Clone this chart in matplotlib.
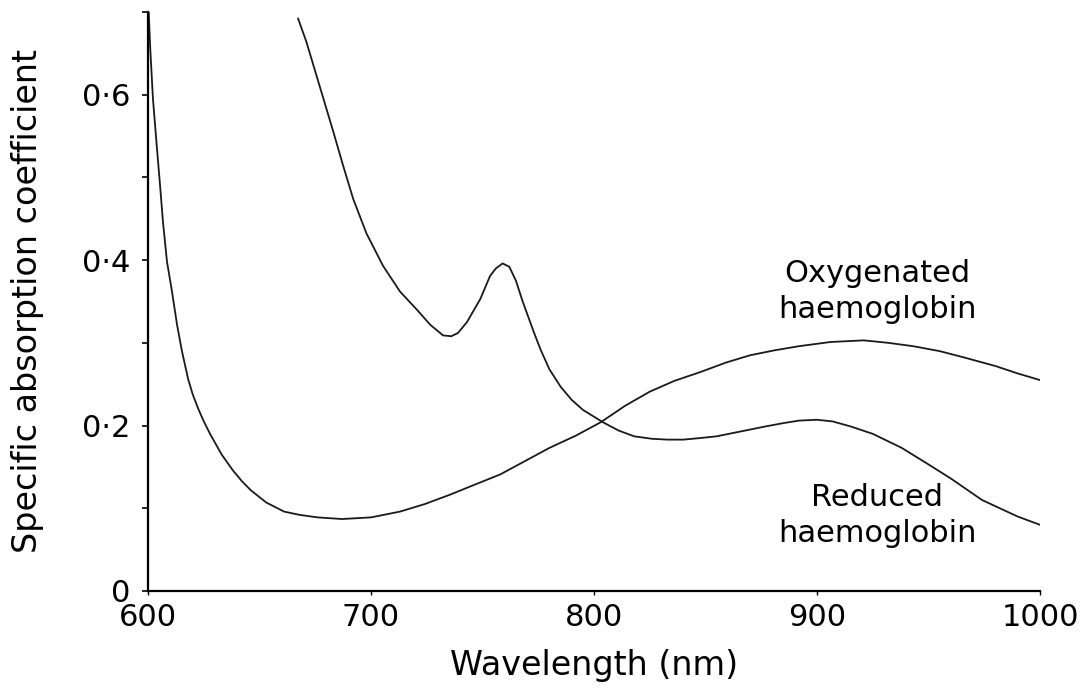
"""Absorption spectra of oxygenated and reduced haemoglobin (600-1000 nm)."""
import matplotlib
matplotlib.use("Agg")
import matplotlib.pyplot as plt
from matplotlib.ticker import FixedLocator, MultipleLocator

# Oxygenated haemoglobin
oxy_nm = [600.3, 601, 602.2, 604, 605.4, 606.7, 608.5, 610.8, 613, 615.2,
          618, 620, 622.4, 625, 627.8, 630.5, 633, 638, 642, 646, 653, 661,
          668, 676, 687, 700, 713, 724, 735, 746, 758, 769, 780, 792, 803,
          814, 825, 836, 848, 859, 870, 881, 892, 906, 921, 932, 943, 955,
          965, 980, 990, 1000]
oxy_k = [0.70, 0.655, 0.595, 0.535, 0.49, 0.446, 0.398, 0.361, 0.322, 0.29,
         0.256, 0.238, 0.221, 0.205, 0.19, 0.177, 0.165, 0.146, 0.133, 0.122,
         0.107, 0.096, 0.092, 0.089, 0.087, 0.089, 0.096, 0.105, 0.116, 0.128,
         0.141, 0.157, 0.173, 0.188, 0.204, 0.224, 0.241, 0.254, 0.265, 0.276,
         0.285, 0.291, 0.296, 0.301, 0.303, 0.300, 0.296, 0.290, 0.283, 0.272,
         0.263, 0.255]

# Reduced haemoglobin
red_nm = [667.3, 671, 675, 679, 683, 687.4, 692, 698, 705.4, 713, 720.6,
          726.5, 732.3, 736, 739, 743, 749, 753.4, 756, 759, 762, 765, 768,
          773, 776, 780, 785, 790, 795, 804, 811, 818, 826, 833, 840, 848,
          855, 866, 877, 885, 892, 900, 907, 915, 925, 938, 950, 960, 974,
          990, 1000]
red_k = [0.692, 0.664, 0.628, 0.592, 0.556, 0.515, 0.474, 0.432, 0.393, 0.362,
         0.34, 0.322, 0.309, 0.308, 0.312, 0.325, 0.353, 0.381, 0.39, 0.396,
         0.392, 0.375, 0.35, 0.313, 0.292, 0.268, 0.247, 0.231, 0.219, 0.204,
         0.194, 0.187, 0.184, 0.183, 0.183, 0.185, 0.187, 0.193, 0.199, 0.203,
         0.206, 0.207, 0.205, 0.199, 0.19, 0.173, 0.153, 0.136, 0.11, 0.09,
         0.08]

y_ticks = [0, 0.2, 0.4, 0.6]
y_labels = ["0", "0\u00b72", "0\u00b74", "0\u00b76"]
x_ticks = [600, 700, 800, 900, 1000]

fig = plt.figure(figsize=(10.83, 6.93), dpi=100)
ax = fig.add_axes([0.1367, 0.1472, 0.8236, 0.8355])

ax.plot(oxy_nm, oxy_k, color="#1a1a1a", linewidth=1.3)
ax.plot(red_nm, red_k, color="#1a1a1a", linewidth=1.3)

ax.set_xlim(600, 1000)
ax.set_ylim(0, 0.70)
for side in ("top", "right"):
    ax.spines[side].set_visible(False)
for side in ("left", "bottom"):
    ax.spines[side].set_linewidth(1.6)

ax.yaxis.set_major_locator(FixedLocator(y_ticks))
ax.set_yticklabels(y_labels)
ax.yaxis.set_minor_locator(MultipleLocator(0.1))
ax.set_xticks(x_ticks)
ax.tick_params(axis="y", which="both", direction="out", length=4, width=1.2,
               labelsize=22, pad=9)
ax.tick_params(axis="x", direction="out", length=3, width=1.0,
               labelsize=22, pad=6)

ax.set_xlabel("Wavelength (nm)", fontsize=24)
ax.xaxis.set_label_coords(0.5, -0.100)
ax.set_ylabel("Specific absorption coefficient", fontsize=24)
ax.yaxis.set_label_coords(-0.117, 0.5)

ax.text(927, 0.362, "Oxygenated\nhaemoglobin", fontsize=22, ha="center",
        va="center", linespacing=1.3)
ax.text(927, 0.091, "Reduced\nhaemoglobin", fontsize=22, ha="center",
        va="center", linespacing=1.3)

plt.savefig("out.png", dpi=100)
plt.close()
